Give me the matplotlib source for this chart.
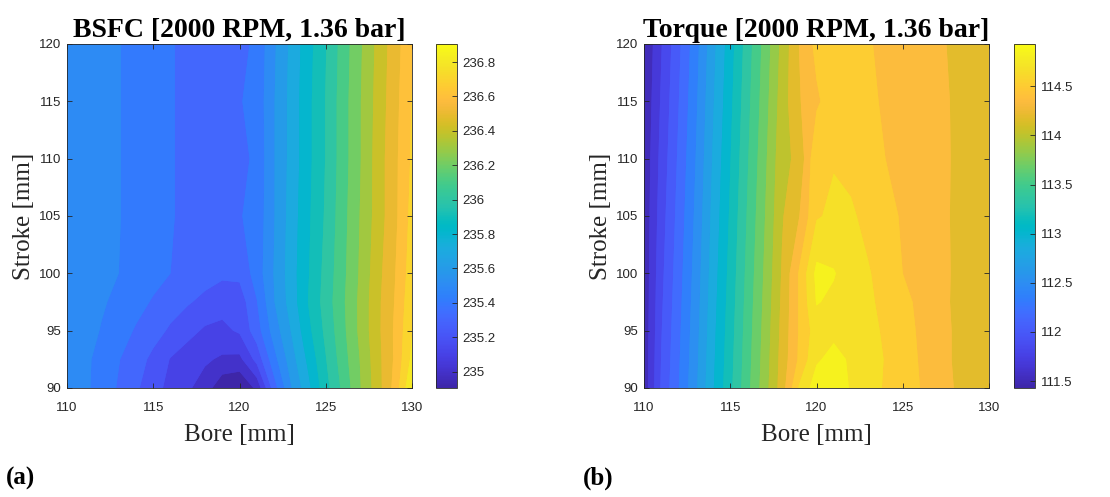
import numpy as np
import matplotlib
matplotlib.use("Agg")
import matplotlib.pyplot as plt
from matplotlib.colors import LinearSegmentedColormap, Normalize
from matplotlib.cm import ScalarMappable

# ---------------- data ----------------
bore = [110, 111, 112, 113, 114, 115, 116, 117, 118, 119, 120,
        121, 122, 123, 124, 125, 126, 127, 128, 129, 130]
stroke = [90, 92.5, 95, 97.5, 100, 105, 110, 115, 120]

bsfc_s090 = [235.56, 235.53, 235.46, 235.395, 235.32, 235.25, 235.17, 235.12, 235.06, 234.93, 234.905,
             235.03, 235.36, 235.60, 235.78, 235.97, 236.13, 236.30, 236.46, 236.64, 236.905]
bsfc_s092 = [235.56, 235.53, 235.47, 235.41, 235.35, 235.28, 235.20, 235.15, 235.12, 235.09, 235.08,
             235.24, 235.47, 235.66, 235.83, 236.00, 236.16, 236.31, 236.47, 236.62, 236.83]
bsfc_s095 = [235.56, 235.54, 235.50, 235.45, 235.395, 235.345, 235.29, 235.24, 235.19, 235.18, 235.22,
             235.36, 235.55, 235.71, 235.88, 236.03, 236.18, 236.33, 236.48, 236.62, 236.80]
bsfc_s097 = [235.56, 235.55, 235.515, 235.485, 235.44, 235.395, 235.35, 235.315, 235.28, 235.245, 235.25,
             235.40, 235.60, 235.75, 235.91, 236.05, 236.19, 236.33, 236.48, 236.61, 236.78]
bsfc_s100 = [235.56, 235.55, 235.53, 235.505, 235.47, 235.44, 235.405, 235.37, 235.345, 235.325, 235.33,
             235.45, 235.61, 235.76, 235.90, 236.04, 236.18, 236.32, 236.47, 236.60, 236.76]
bsfc_s105 = [235.56, 235.55, 235.53, 235.51, 235.47, 235.44, 235.41, 235.39, 235.37, 235.36, 235.398,
             235.44, 235.60, 235.75, 235.89, 236.02, 236.17, 236.31, 236.45, 236.58, 236.74]
bsfc_s110 = [235.56, 235.55, 235.53, 235.51, 235.47, 235.44, 235.41, 235.39, 235.37, 235.36, 235.37,
             235.43, 235.60, 235.74, 235.88, 236.01, 236.16, 236.30, 236.45, 236.58, 236.72]
bsfc_s115 = [235.56, 235.55, 235.53, 235.51, 235.47, 235.44, 235.41, 235.39, 235.37, 235.36, 235.398,
             235.44, 235.60, 235.74, 235.88, 236.01, 236.16, 236.30, 236.44, 236.57, 236.71]
bsfc_s120 = [235.56, 235.55, 235.53, 235.51, 235.47, 235.44, 235.41, 235.39, 235.37, 235.36, 235.37,
             235.43, 235.59, 235.73, 235.87, 236.00, 236.15, 236.29, 236.43, 236.56, 236.69]

torque_s090 = [111.49, 111.954, 112.258, 112.566, 112.914, 113.223, 113.548, 113.858, 114.181, 114.62, 114.86,
               114.93, 114.74, 114.66, 114.58, 114.50, 114.43, 114.34, 114.26, 114.21, 114.18]
torque_s092 = [111.49, 111.937, 112.241, 112.549, 112.897, 113.206, 113.531, 113.841, 114.164, 114.46, 114.74,
               114.82, 114.74, 114.65, 114.59, 114.50, 114.42, 114.33, 114.25, 114.21, 114.18]
torque_s095 = [111.485, 111.921, 112.225, 112.533, 112.881, 113.19, 113.515, 113.825, 114.148, 114.45, 114.68,
               114.72, 114.70, 114.63, 114.58, 114.49, 114.41, 114.33, 114.25, 114.21, 114.18]
torque_s097 = [111.48, 111.904, 112.208, 112.516, 112.864, 113.173, 113.498, 113.808, 114.131, 114.45, 114.775,
               114.73, 114.68, 114.62, 114.56, 114.47, 114.40, 114.33, 114.24, 114.21, 114.18]
torque_s100 = [111.48, 111.887, 112.191, 112.499, 112.847, 113.156, 113.481, 113.791, 114.114, 114.45, 114.81,
               114.775, 114.68, 114.61, 114.53, 114.43, 114.37, 114.31, 114.25, 114.22, 114.19]
torque_s105 = [111.475, 111.854, 112.158, 112.466, 112.814, 113.123, 113.448, 113.758, 114.081, 114.26, 114.58,
               114.63, 114.62, 114.55, 114.49, 114.41, 114.36, 114.30, 114.25, 114.22, 114.19]
torque_s110 = [111.47, 111.821, 112.125, 112.433, 112.781, 113.09, 113.415, 113.725, 114.048, 114.14, 114.58,
               114.585, 114.55, 114.49, 114.43, 114.38, 114.35, 114.31, 114.25, 114.22, 114.19]
torque_s115 = [111.45, 111.787, 112.091, 112.399, 112.747, 113.056, 113.381, 113.691, 114.014, 114.25, 114.40,
               114.53, 114.52, 114.46, 114.41, 114.37, 114.34, 114.30, 114.25, 114.22, 114.19]
torque_s120 = [111.43, 111.754, 112.058, 112.366, 112.714, 113.023, 113.348, 113.658, 113.981, 114.267, 114.48,
               114.52, 114.52, 114.445, 114.39, 114.36, 114.33, 114.29, 114.24, 114.21, 114.18]

bsfc_cbar_ticks = [235, 235.2, 235.4, 235.6, 235.8, 236, 236.2, 236.4, 236.6, 236.8]
torque_cbar_ticks = [111.5, 112, 112.5, 113, 113.5, 114, 114.5]
x_ticks = [110, 115, 120, 125, 130]
y_ticks = [90, 95, 100, 105, 110, 115, 120]

title_a = "BSFC [2000 RPM, 1.36 bar]"
title_b = "Torque [2000 RPM, 1.36 bar]"
xlabel = "Bore [mm]"
ylabel = "Stroke [mm]"
panel_a = "(a)"
panel_b = "(b)"
bsfc_nbands = 20
torque_nbands = 21

# ---------------- parula colormap ----------------
parula_data = [
    [0.2422, 0.1504, 0.6603], [0.2504, 0.1650, 0.7076], [0.2578, 0.1818, 0.7511], [0.2647, 0.1978, 0.7952],
    [0.2706, 0.2147, 0.8364], [0.2751, 0.2342, 0.8710], [0.2783, 0.2559, 0.8991], [0.2803, 0.2782, 0.9221],
    [0.2813, 0.3006, 0.9414], [0.2810, 0.3228, 0.9579], [0.2795, 0.3447, 0.9717], [0.2760, 0.3667, 0.9829],
    [0.2699, 0.3892, 0.9906], [0.2602, 0.4123, 0.9952], [0.2440, 0.4358, 0.9988], [0.2206, 0.4603, 0.9973],
    [0.1963, 0.4847, 0.9892], [0.1834, 0.5074, 0.9798], [0.1786, 0.5289, 0.9682], [0.1764, 0.5499, 0.9520],
    [0.1687, 0.5703, 0.9359], [0.1540, 0.5902, 0.9218], [0.1460, 0.6091, 0.9079], [0.1380, 0.6276, 0.8973],
    [0.1248, 0.6459, 0.8883], [0.1113, 0.6635, 0.8763], [0.0952, 0.6798, 0.8598], [0.0689, 0.6948, 0.8394],
    [0.0297, 0.7082, 0.8163], [0.0036, 0.7203, 0.7917], [0.0067, 0.7312, 0.7660], [0.0433, 0.7411, 0.7394],
    [0.0964, 0.7500, 0.7120], [0.1408, 0.7584, 0.6842], [0.1717, 0.7670, 0.6554], [0.1938, 0.7758, 0.6251],
    [0.2161, 0.7843, 0.5923], [0.2470, 0.7918, 0.5567], [0.2906, 0.7973, 0.5188], [0.3406, 0.8008, 0.4789],
    [0.3909, 0.8029, 0.4354], [0.4456, 0.8024, 0.3909], [0.5044, 0.7993, 0.3480], [0.5616, 0.7942, 0.3045],
    [0.6174, 0.7876, 0.2612], [0.6720, 0.7793, 0.2227], [0.7242, 0.7698, 0.1910], [0.7738, 0.7598, 0.1646],
    [0.8203, 0.7498, 0.1535], [0.8634, 0.7406, 0.1596], [0.9035, 0.7330, 0.1774], [0.9393, 0.7288, 0.2100],
    [0.9728, 0.7298, 0.2394], [0.9956, 0.7434, 0.2371], [0.9970, 0.7659, 0.2199], [0.9952, 0.7893, 0.2028],
    [0.9892, 0.8136, 0.1885], [0.9786, 0.8386, 0.1766], [0.9676, 0.8639, 0.1643], [0.9610, 0.8890, 0.1537],
    [0.9597, 0.9135, 0.1423], [0.9628, 0.9373, 0.1265], [0.9691, 0.9606, 0.1064], [0.9769, 0.9839, 0.0805]]
parula = LinearSegmentedColormap.from_list("parula", parula_data, N=256)

bsfc = np.array([bsfc_s090, bsfc_s092, bsfc_s095, bsfc_s097, bsfc_s100,
                 bsfc_s105, bsfc_s110, bsfc_s115, bsfc_s120])
torque = np.array([torque_s090, torque_s092, torque_s095, torque_s097, torque_s100,
                   torque_s105, torque_s110, torque_s115, torque_s120])

plt.rcParams['font.family'] = ['Liberation Sans', 'DejaVu Sans']
SERIF = ['Liberation Serif', 'DejaVu Serif']
TXT = '#262626'

fig = plt.figure(figsize=(11.10, 4.97), dpi=100)
W, H = 1110.0, 497.0


def frac(x0, y0, x1, y1):
    return [x0 / W, 1 - y1 / H, (x1 - x0) / W, (y1 - y0) / H]


def panel(ax_rect, cb_rect, Z, nbands, band_pos, cticks, title, tag, tag_x):
    ax = fig.add_axes(frac(*ax_rect))
    zmin, zmax = Z.min(), Z.max()
    levels = np.linspace(zmin, zmax, nbands + 1)
    norm = Normalize(vmin=zmin, vmax=zmax)
    step = levels[1] - levels[0]
    band_colors = [parula(norm(lv + band_pos * step)) for lv in levels[:-1]]
    ax.contourf(bore, stroke, Z, levels=levels, colors=band_colors, antialiased=False)
    ax.contourf(bore, stroke, Z, levels=levels, colors=band_colors, antialiased=True)
    ax.set_xlim(110, 130)
    ax.set_ylim(90, 120)
    ax.set_xticks(x_ticks)
    ax.set_yticks(y_ticks)
    ax.tick_params(direction='in', top=True, right=True, length=3.5, width=0.6,
                   labelsize=9.5, colors=TXT)
    ax.tick_params(axis='x', pad=10)
    ax.tick_params(axis='y', pad=4)
    for sp in ax.spines.values():
        sp.set_linewidth(0.6)
        sp.set_color(TXT)
    ax.set_xlabel(xlabel, family=SERIF, fontsize=18, color=TXT, labelpad=7)
    ax.set_ylabel(ylabel, family=SERIF, fontsize=18, color=TXT, labelpad=3)
    ax.set_title(title, family=SERIF, fontsize=20, fontweight='bold', color='black', pad=5)

    cax = fig.add_axes(frac(*cb_rect))
    sm = ScalarMappable(norm=norm, cmap=parula)
    cb = fig.colorbar(sm, cax=cax, ticks=cticks)
    cb.ax.set_yticklabels(['%g' % t for t in cticks])
    cb.ax.tick_params(direction='in', length=3.5, width=0.6, labelsize=9.5, colors=TXT, pad=4)
    cb.outline.set_linewidth(0.6)
    cb.outline.set_edgecolor(TXT)
    fig.text(tag_x / W, 1 - 478 / H, tag, family=SERIF, fontsize=18, fontweight='bold',
             ha='left', va='center', color='black')
    return ax


panel((67, 44, 412, 388), (436, 44, 457, 388), bsfc, bsfc_nbands, 0.0, bsfc_cbar_ticks,
      title_a, panel_a, 6)
panel((644, 44, 989, 388), (1014, 44, 1035, 388), torque, torque_nbands, 0.5, torque_cbar_ticks,
      title_b, panel_b, 583)

fig.savefig("out.png", dpi=100)
